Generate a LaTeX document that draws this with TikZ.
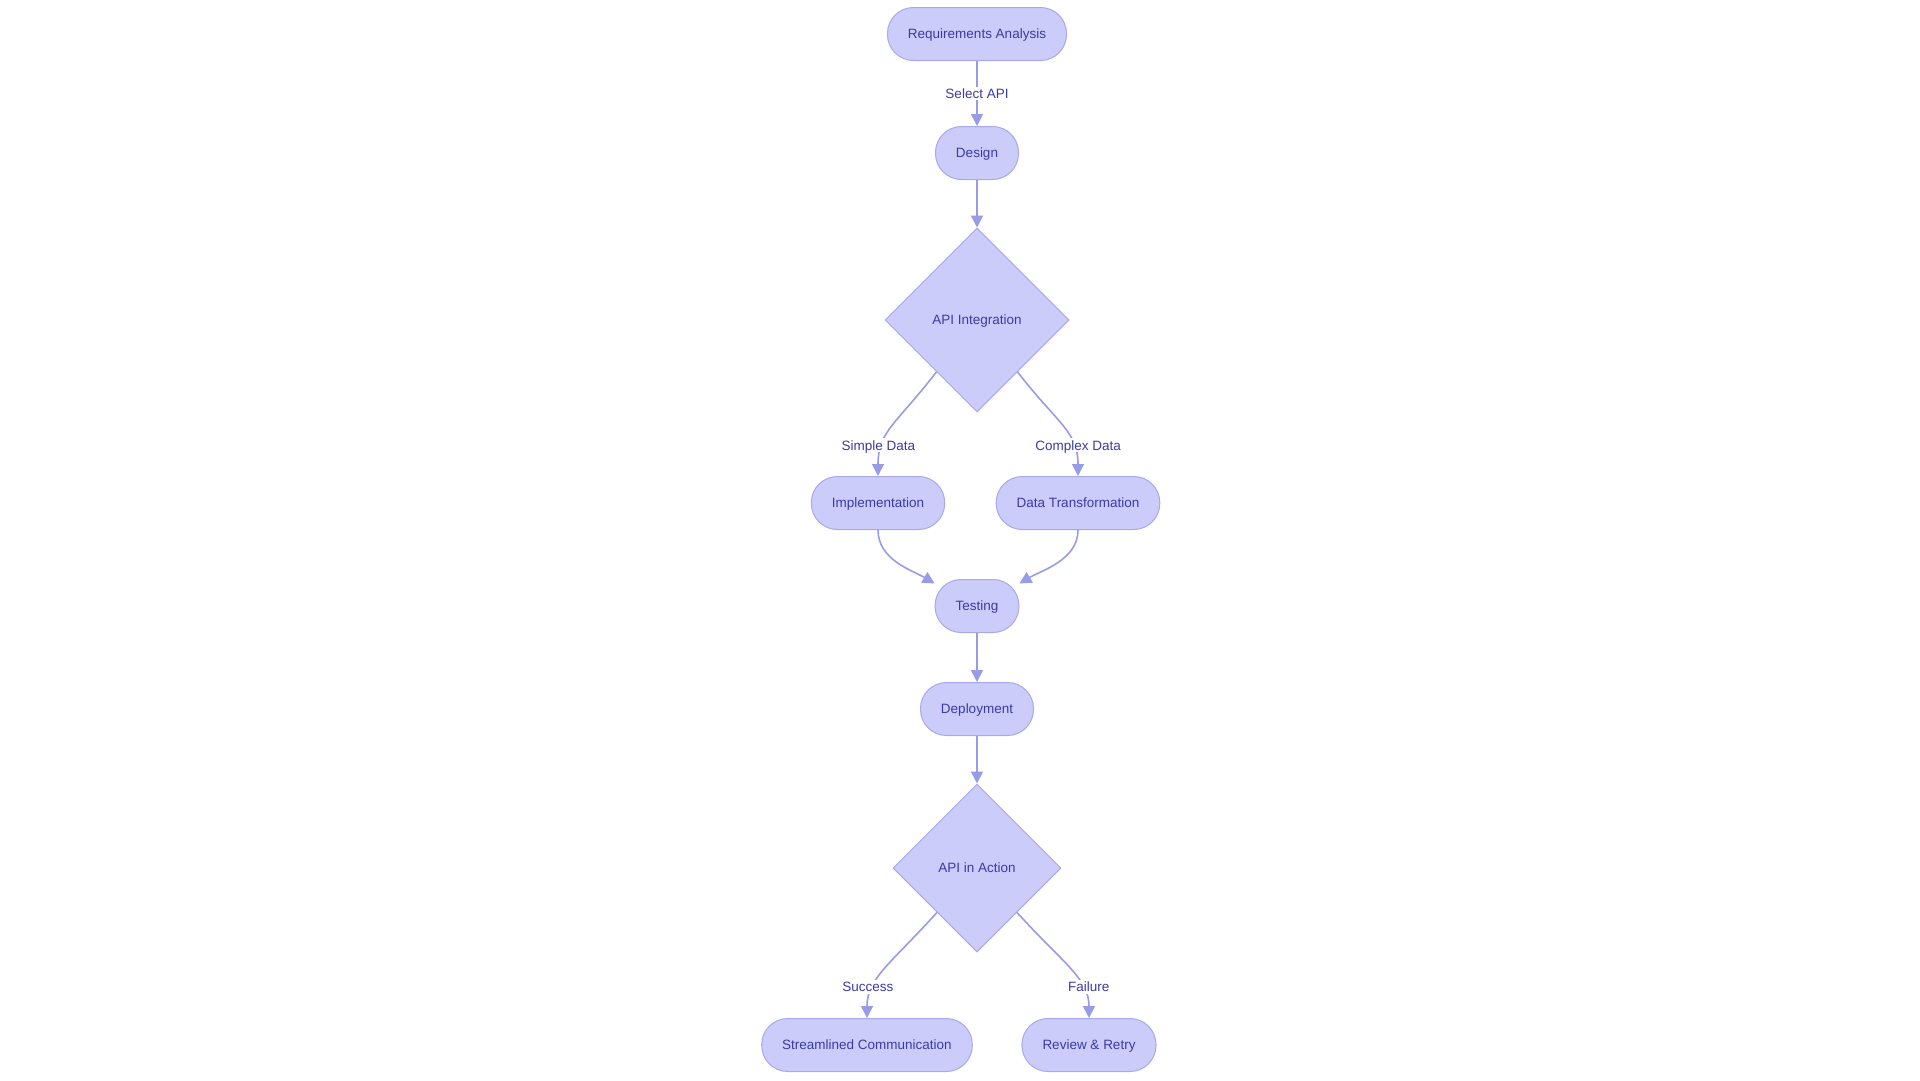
\documentclass[tikz,border=0pt]{standalone}
\usepackage{fontspec}
\setmainfont{Liberation Sans}
\usetikzlibrary{arrows.meta,shapes.geometric}
\definecolor{boxfill}{RGB}{204,204,250}
\definecolor{boxline}{RGB}{168,168,235}
\definecolor{flowline}{RGB}{152,156,232}
\definecolor{boxtext}{RGB}{58,58,168}

\begin{document}
\begin{tikzpicture}[x=1pt,y=-1pt,
  every node/.style={text=boxtext,font=\fontsize{13.5}{16}\selectfont,text height=9.7pt,text depth=0pt},
  box/.style={rectangle,rounded corners=26pt,draw=boxline,fill=boxfill,line width=1pt,minimum height=53pt,inner xsep=20.5pt},
  choice/.style={diamond,aspect=1,draw=boxline,fill=boxfill,line width=1pt,inner sep=0pt,minimum width=#1,minimum height=#1},
  flow/.style={draw=flowline,line width=1.6pt,-{Triangle[length=12pt,width=12pt]}},
  lbl/.style={fill=white,inner sep=2pt}]
\useasboundingbox[fill=white] (0,0) rectangle (1920,1080);
% steps
\node[box] (req) at (977,34) {Requirements Analysis};
\node[box] (des) at (977,153) {Design};
\node[choice=184pt] (ai) at (977,320) {API Integration};
\node[box] (impl) at (878,503) {Implementation};
\node[box] (dtr) at (1078,503) {Data Transformation};
\node[box] (test) at (977,606) {Testing};
\node[box] (dep) at (977,709) {Deployment};
\node[choice=168pt] (aia) at (977,868) {API in Action};
\node[box] (comm) at (867,1045) {Streamlined Communication};
\node[box] (retry) at (1089,1045) {Review \& Retry};
% connectors
\draw[flow] (req) -- node[lbl] {Select API} (des);
\foreach \a/\b in {des/ai,test/dep,dep/aia} {
  \draw[flow] (\a) -- (\b);
}
\draw[flow] (ai.-128) .. controls +(-40,52) and +(0,-45) .. node[lbl,pos=0.72,xshift=-4pt] {Simple Data} (impl.north);
\draw[flow] (ai.-52) .. controls +(40,52) and +(0,-45) .. node[lbl,pos=0.72,xshift=5pt] {Complex Data} (dtr.north);
\draw[flow] (impl.south) .. controls +(0,30) and +(-22,-13) .. (test.152);
\draw[flow] (dtr.south) .. controls +(0,30) and +(22,-13) .. (test.28);
\draw[flow] (aia.-132) .. controls +(-45,50) and +(0,-40) .. node[lbl,pos=0.72,xshift=-5pt,yshift=2pt] {Success} (comm.north);
\draw[flow] (aia.-48) .. controls +(45,50) and +(0,-40) .. node[lbl,pos=0.72,xshift=6pt,yshift=2pt] {Failure} (retry.north);
\end{tikzpicture}
\end{document}
